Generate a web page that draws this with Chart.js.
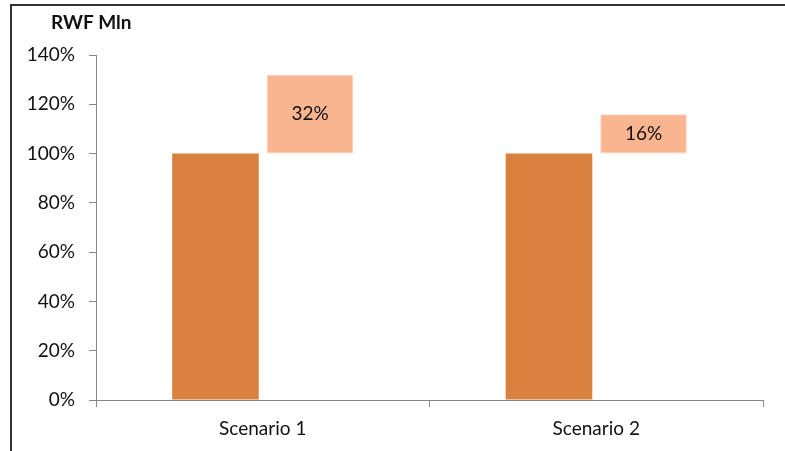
<!DOCTYPE html>
<html>
<head>
<meta charset="utf-8">
<script src="https://cdn.jsdelivr.net/npm/chart.js@4/dist/chart.umd.min.js"></script>
<style>
html,body{margin:0;padding:0;background:#fff;}
#wrap{width:785px;height:451px;position:relative;}
</style>
</head>
<body>
<div id="wrap"><canvas id="c" width="785" height="451"></canvas></div>
<script>
const categories = ["Scenario 1", "Scenario 2"];
const baseValues = [100, 100];
const increaseValues = [32, 16];
const yTicks = [0, 20, 40, 60, 80, 100, 120, 140];
const yTitle = "RWF Mln";

const floating = baseValues.map((b, i) => [b, b + increaseValues[i]]);

const FONT = "Lato, 'Open Sans', sans-serif";

const decor = {
  id: 'decor',
  afterDraw(chart) {
    const ctx = chart.ctx;
    ctx.save();
    // frame
    ctx.strokeStyle = '#333';
    ctx.lineWidth = 2;
    ctx.beginPath();
    ctx.moveTo(11, 451);
    ctx.lineTo(11, 5);
    ctx.lineTo(785, 5);
    ctx.stroke();
    // title
    ctx.fillStyle = '#111';
    ctx.font = "bold 19px " + FONT;
    ctx.textAlign = 'left';
    ctx.textBaseline = 'middle';
    ctx.fillText(yTitle, 51, 23);
    // labels
    const meta = chart.getDatasetMeta(1);
    ctx.font = "19px " + FONT;
    ctx.textAlign = 'center';
    meta.data.forEach((bar, i) => {
      const y = (bar.y + bar.base) / 2;
      ctx.fillText(increaseValues[i] + '%', bar.x, y);
    });
    ctx.restore();
  }
};

new Chart(document.getElementById('c'), {
  type: 'bar',
  data: {
    labels: categories,
    datasets: [
      { data: baseValues, backgroundColor: '#D9823F', borderWidth: 0,
        categoryPercentage: 0.567, barPercentage: 0.916 },
      { data: floating, backgroundColor: '#F9B590', borderColor: '#FCD3BC', borderWidth: 1,
        borderSkipped: false, categoryPercentage: 0.567, barPercentage: 0.916 }
    ]
  },
  options: {
    responsive: false,
    animation: false,
    layout: { padding: { left: 0, right: 22, top: 55, bottom: 0 } },
    plugins: { legend: { display: false }, tooltip: { enabled: false } },
    scales: {
      x: {
        grid: { drawOnChartArea: false, offset: true, tickLength: 7, color: '#888' },
        border: { color: '#888', width: 1 },
        ticks: { color: '#111', font: { family: FONT, size: 19 }, padding: 10 },
        afterFit(s) { s.height = 51; }
      },
      y: {
        min: 0, max: 140,
        afterBuildTicks(s) { s.ticks = yTicks.map(v => ({ value: v })); },
        grid: { drawOnChartArea: false, tickLength: 7, color: '#888' },
        border: { color: '#888', width: 1 },
        ticks: { color: '#111', font: { family: FONT, size: 19 }, padding: 14,
                 callback: v => v + '%' },
        afterFit(s) { s.width = 96; }
      }
    }
  },
  plugins: [decor]
});
</script>
</body>
</html>
